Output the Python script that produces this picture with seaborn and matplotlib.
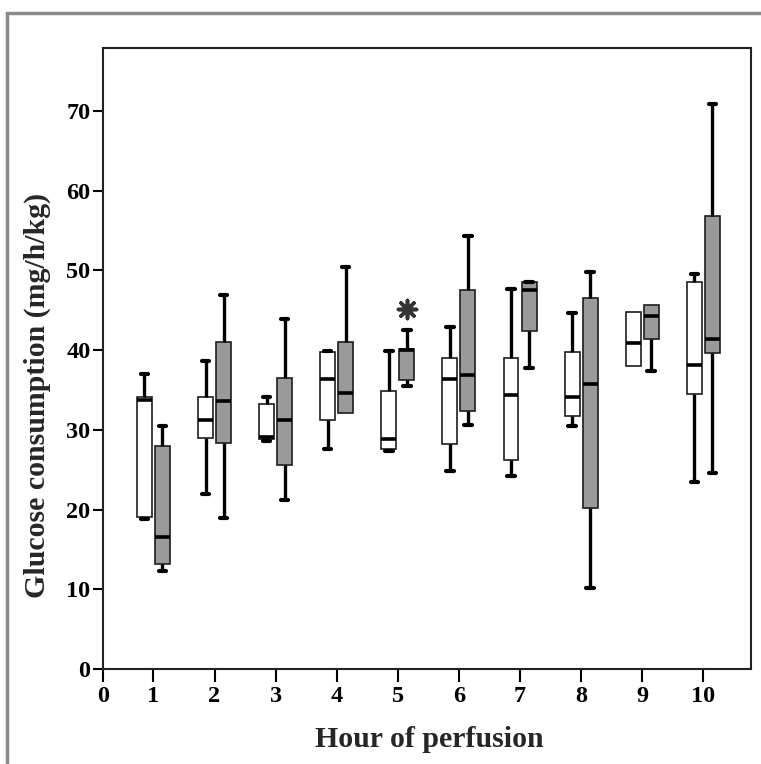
import pandas as pd
import matplotlib
matplotlib.use("Agg")
import matplotlib.pyplot as plt
import seaborn as sns
from matplotlib.patches import Rectangle

# hours on the x axis
hours = [1, 2, 3, 4, 5, 6, 7, 8, 9, 10]

# five-number summaries: min, q1, median, q3, max
white_min = [18.8, 22.0, 28.6, 27.6, 27.3, 24.9, 24.2, 30.5, 38.0, 23.4]
white_q1 = [19.1, 29.0, 28.9, 31.2, 27.6, 28.2, 26.2, 31.7, 38.0, 34.5]
white_med = [33.7, 31.2, 29.1, 36.4, 28.9, 36.4, 34.4, 34.1, 40.9, 38.1]
white_q3 = [34.1, 34.1, 33.3, 39.8, 34.9, 39.0, 39.0, 39.8, 44.8, 48.5]
white_max = [37.0, 38.6, 34.1, 39.9, 39.9, 42.9, 47.7, 44.7, 44.8, 49.6]

gray_min = [12.3, 18.9, 21.2, 32.1, 35.5, 30.6, 37.7, 10.2, 37.4, 24.6]
gray_q1 = [13.2, 28.3, 25.6, 32.1, 36.3, 32.4, 42.4, 20.2, 41.4, 39.6]
gray_med = [16.6, 33.6, 31.2, 34.6, 40.0, 36.9, 47.6, 35.8, 44.3, 41.4]
gray_q3 = [28.0, 41.0, 36.5, 41.0, 40.2, 47.5, 48.5, 46.6, 45.7, 56.8]
gray_max = [30.5, 46.9, 43.9, 50.4, 42.5, 54.3, 48.6, 49.8, 45.7, 70.9]

# extreme value (asterisk) in the gray group
outlier_hour = [5]
outlier_value = [45.2]

# build long table: 5 values per box give exactly these quartiles
rows = []
for grp, parts in [("white", [white_min, white_q1, white_med, white_q3, white_max]),
                   ("gray", [gray_min, gray_q1, gray_med, gray_q3, gray_max])]:
    for i, h in enumerate(hours):
        for p in parts:
            rows.append({"hour": h, "group": grp, "value": p[i]})
df = pd.DataFrame(rows)

sns.set_style("ticks")
plt.rcParams["font.family"] = ["Liberation Serif", "DejaVu Serif"]
plt.rcParams["font.weight"] = "bold"

fig = plt.figure(figsize=(7.61, 7.64), dpi=100)
ax = fig.add_axes([0.1353, 0.1243, 0.8515, 0.8129])

box_width = 0.59
sns.boxplot(data=df, x="hour", y="value", hue="group", hue_order=["white", "gray"],
            native_scale=True, width=box_width, gap=0.17,
            palette={"white": "white", "gray": "#9a9a9a"},
            whis=(0, 100), linecolor="#1e1e1e", linewidth=1.2,
            medianprops={"color": "black", "linewidth": 2.6},
            whiskerprops={"color": "black", "linewidth": 2.4},
            capprops={"color": "black", "linewidth": 3.0},
            fliersize=0, legend=False, ax=ax)

# hide caps where the whisker has no length (box edge = min/max)
lines = ax.lines
for ln in lines:
    ys = ln.get_ydata()
    xs = ln.get_xdata()
    if len(ys) == 2 and ys[0] == ys[1] and abs(xs[1] - xs[0]) < 0.2:
        for other in lines:
            oy, ox = other.get_ydata(), other.get_xdata()
            if len(oy) == 2 and ox[0] == ox[1] and abs(ox[0] - (xs[0] + xs[1]) / 2) < 1e-6:
                if oy[0] == oy[1] and oy[0] == ys[0]:
                    ln.set_visible(False)

# asterisk for the extreme value, sits on the gray box position
ax_out = pd.DataFrame({"hour": [h + box_width / 4 for h in outlier_hour], "value": outlier_value})
sns.scatterplot(data=ax_out, x="hour", y="value", marker=(8, 2, 0), s=170,
                color="#333333", linewidth=2.6, ax=ax, legend=False)

x_left = 0.1735
ax.set_xlim(x_left, 10.78)
ax.set_ylim(0, 77.9)
ax.set_xticks([x_left] + hours)
ax.set_xticklabels([str(t) for t in [0] + hours])
ax.set_yticks(range(0, 80, 10))
ax.tick_params(axis="both", direction="out", length=7, width=1.5, labelsize=17.5, colors="black")
ax.tick_params(axis="x", length=9, pad=3)
ax.tick_params(axis="y", pad=2)
for s in ax.spines.values():
    s.set_visible(True)
    s.set_linewidth(1.5)
    s.set_color("#222222")

ax.set_xlabel("Hour of perfusion", fontsize=21.5, fontweight="bold")
ax.set_ylabel("Glucose consumption (mg/h/kg)", fontsize=21.5, fontweight="bold")
ax.xaxis.set_label_coords(0.503, -0.092)
ax.yaxis.set_label_coords(-0.08, 0.441)

# gray frame around the whole picture
fig.patches.append(Rectangle((7 / 761, -0.02), 1.1, 1.02 - 13 / 764, transform=fig.transFigure,
                             fill=False, edgecolor="#8a8a8a", linewidth=2.5))

fig.savefig("out.png", dpi=100)
